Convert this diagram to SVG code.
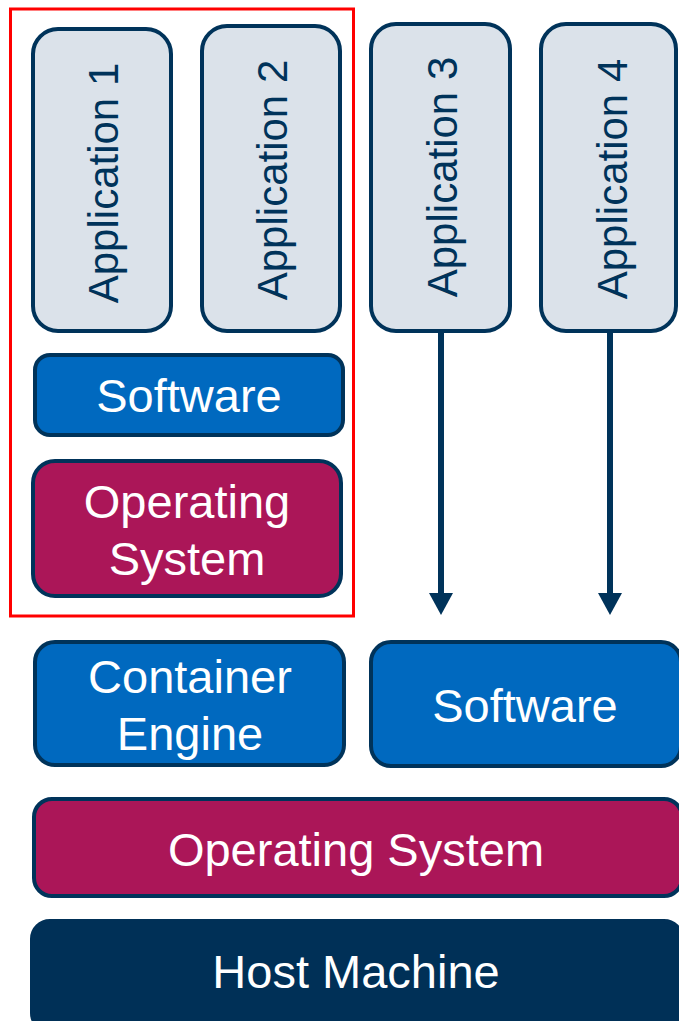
<svg xmlns="http://www.w3.org/2000/svg" width="679" height="1021" viewBox="0 0 679 1021">
<defs>
<style>
.app{fill:#dbe2ea;stroke:#00335a;stroke-width:4}
.sw{fill:#0069bf;stroke:#00335a;stroke-width:4}
.os{fill:#ab1658;stroke:#00335a;stroke-width:4}
.host{fill:#003057;stroke:#003057;stroke-width:4}
.at{font-family:"Liberation Sans",Arial,sans-serif;font-size:42px;fill:#00335a;text-anchor:middle}
.wt{font-family:"Liberation Sans",Arial,sans-serif;font-size:47px;fill:#ffffff;text-anchor:middle}
.conn{stroke:#00335a;stroke-width:6;fill:none}
</style>
<marker id="ah" viewBox="0 0 22 24" markerWidth="22" markerHeight="24" refX="1" refY="12" orient="auto" markerUnits="userSpaceOnUse">
<polygon points="0,0 22,12 0,24" fill="#00335a"/>
</marker>
</defs>
<rect x="0" y="0" width="679" height="1021" fill="#ffffff"/>
<rect id="container-group" x="10.5" y="9" width="343" height="607" fill="none" stroke="#ff0000" stroke-width="3"/>
<g id="app1"><rect class="app" x="33" y="29" width="138" height="302" rx="25"/><text class="at" transform="translate(102,183) rotate(-90)" y="16">Application 1</text></g>
<g id="app2"><rect class="app" x="202" y="26" width="138" height="305" rx="25"/><text class="at" transform="translate(271,180) rotate(-90)" y="16">Application 2</text></g>
<g id="app3"><rect class="app" x="371" y="24" width="139" height="307" rx="25"/><text class="at" transform="translate(441,177) rotate(-90)" y="16">Application 3</text></g>
<g id="app4"><rect class="app" x="541" y="24" width="135" height="307" rx="25"/><text class="at" transform="translate(611,179) rotate(-90)" y="16">Application 4</text></g>
<g id="software1"><rect class="sw" x="35" y="355" width="308" height="80" rx="15"/><text class="wt" x="189" y="412">Software</text></g>
<g id="os1"><rect class="os" x="33" y="461" width="308" height="135" rx="22"/><text class="wt" x="187" y="518">Operating</text><text class="wt" x="187" y="575">System</text></g>
<g id="container-engine"><rect class="sw" x="35" y="642" width="309" height="123" rx="20"/><text class="wt" x="190" y="693">Container</text><text class="wt" x="190" y="750">Engine</text></g>
<g id="software2"><rect class="sw" x="371" y="642" width="310" height="124" rx="20"/><text class="wt" x="525" y="722">Software</text></g>
<g id="os-host"><rect class="os" x="34" y="799" width="648" height="97" rx="18"/><text class="wt" x="356" y="866">Operating System</text></g>
<g id="host"><rect class="host" x="32" y="921" width="650" height="110" rx="18"/><text class="wt" x="356" y="988">Host Machine</text></g>
<g id="connectors">
<line class="conn" x1="441" y1="331" x2="441" y2="594" marker-end="url(#ah)"/>
<line class="conn" x1="610" y1="331" x2="610" y2="594" marker-end="url(#ah)"/>
</g>
</svg>
